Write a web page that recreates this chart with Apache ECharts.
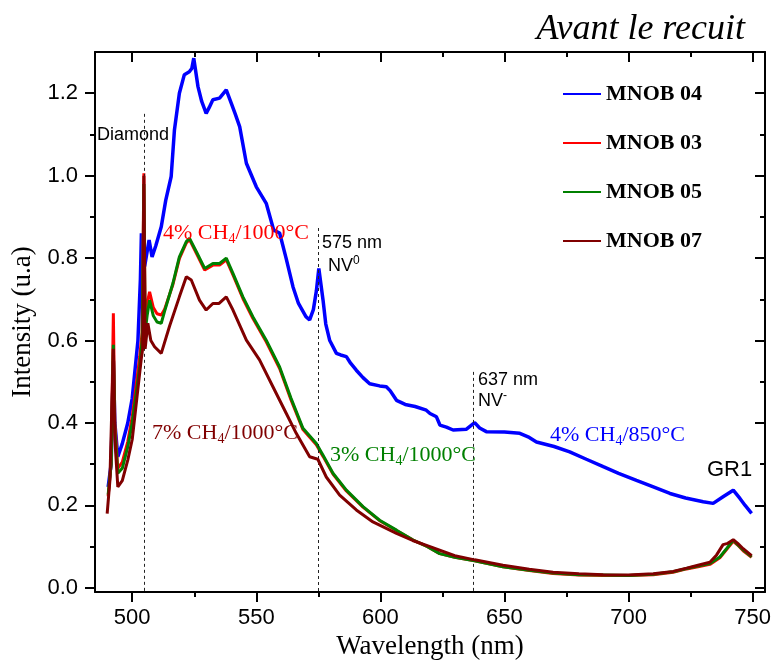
<!DOCTYPE html>
<html><head><meta charset="utf-8">
<script src="https://cdn.jsdelivr.net/npm/echarts@6/dist/echarts.min.js"></script>
<style>html,body{margin:0;padding:0;background:#fff}#c{width:774px;height:662px}</style>
</head><body><div id="c"></div>
<script>
// ---- data ----
const wl04 = [490.3,491.5,492.4,493.0,494.2,496,498.2,500,502.3,503.3,503.7,504.3,505,506.8,508,509.5,511.7,513.5,515.7,517,519,521,523,524,524.8,526.5,528,529.8,531,532.5,535.2,537.9,539.9,541.5,543.3,546,550,554,557,559.4,562,564.8,567,570,571.5,573,574.2,575.2,576.9,578,579.6,582.3,584,586.3,588,590.3,593,595.7,599.7,602.4,604,606.5,610,614,618.5,620,622.6,624,626.6,629.3,634.7,638,640,642.7,650,656.2,660,662.9,670,676.3,683,689.8,696,703.2,710,716.7,723,730.1,734.1,738.1,742.2,744.9,747,749.6];
const int04 = [0.245,0.30,0.55,0.40,0.318,0.35,0.40,0.46,0.60,0.75,0.86,0.80,0.78,0.844,0.803,0.83,0.876,0.94,0.998,1.11,1.20,1.245,1.252,1.26,1.285,1.216,1.18,1.151,1.165,1.184,1.188,1.208,1.176,1.15,1.119,1.03,0.973,0.933,0.868,0.861,0.80,0.73,0.69,0.658,0.65,0.675,0.72,0.775,0.698,0.64,0.60,0.569,0.565,0.561,0.545,0.528,0.51,0.495,0.49,0.488,0.478,0.455,0.445,0.44,0.431,0.423,0.415,0.395,0.39,0.383,0.385,0.401,0.388,0.379,0.378,0.375,0.365,0.354,0.343,0.33,0.312,0.294,0.278,0.261,0.245,0.229,0.218,0.209,0.205,0.221,0.237,0.217,0.20,0.181];

const wl03 = [490.3,491.5,492.4,493.0,494.2,496,498.2,500,503,504,504.7,505.2,506,507,508.5,510,511.7,513,516.4,519,521.8,523.1,525.8,529.2,532.5,535.2,537.9,540.6,544.6,548.6,554,559.4,564,568.8,574.2,576.9,580.9,586.3,593,599.7,606.5,613.2,619,623.9,630,638,649.4,660,669.6,680,689.8,700,710,718,723.4,728,732.8,736.8,739.5,742.2,744,746.2,749.6];
const int03 = [0.222,0.30,0.666,0.40,0.29,0.305,0.355,0.415,0.56,0.62,1.006,0.64,0.69,0.718,0.68,0.665,0.662,0.675,0.736,0.799,0.837,0.845,0.812,0.771,0.783,0.783,0.796,0.759,0.702,0.654,0.597,0.532,0.456,0.384,0.347,0.319,0.276,0.235,0.196,0.163,0.139,0.116,0.1,0.083,0.074,0.066,0.051,0.042,0.035,0.031,0.030,0.030,0.032,0.038,0.046,0.051,0.057,0.073,0.093,0.113,0.104,0.09,0.074];

const wl05 = [490.3,491.5,492.4,493.0,494.2,496,498.2,500,503,504,504.7,505.2,506,507,508.5,510,511.7,513,516.4,519,521.8,523.1,525.8,529.2,532.5,535.2,537.9,540.6,544.6,548.6,554,559.4,564,568.8,574.2,576.9,580.9,586.3,593,599.7,606.5,613.2,619,623.9,630,638,649.4,660,669.6,680,689.8,700,710,718,723.4,728,732.8,736.8,739.5,742.2,744,746.2,749.6];
const int05 = [0.226,0.30,0.59,0.38,0.278,0.29,0.342,0.40,0.536,0.60,0.98,0.62,0.66,0.698,0.66,0.645,0.642,0.67,0.739,0.803,0.84,0.848,0.816,0.775,0.787,0.787,0.80,0.763,0.706,0.658,0.601,0.536,0.46,0.387,0.35,0.322,0.278,0.237,0.197,0.164,0.14,0.116,0.10,0.083,0.074,0.066,0.051,0.043,0.036,0.032,0.031,0.030,0.033,0.039,0.047,0.053,0.059,0.075,0.095,0.116,0.105,0.092,0.075];

const wl07 = [489.9,491,492.4,493.0,494.2,496,498.2,500,503.6,504.2,504.7,505.2,506.3,507.5,509,511.7,512.3,515,519,521.8,523.8,527.1,529.8,532.5,535,537.9,540.6,546,551.3,556.7,562.1,566.1,571.5,574.8,578.2,583.6,590.3,597,606.5,613,620,630,638,649.4,660,669.6,680,689.8,700,710,718,723.4,728,732.8,735.5,738.1,740,742.2,744,746.2,749.6];
const int07 = [0.18,0.26,0.58,0.36,0.245,0.26,0.31,0.36,0.553,0.58,1.0,0.58,0.642,0.60,0.585,0.569,0.569,0.634,0.706,0.755,0.747,0.698,0.674,0.69,0.69,0.706,0.674,0.601,0.553,0.488,0.423,0.375,0.318,0.312,0.269,0.225,0.189,0.16,0.132,0.115,0.10,0.078,0.068,0.055,0.045,0.038,0.034,0.032,0.031,0.034,0.040,0.048,0.055,0.062,0.08,0.105,0.108,0.117,0.108,0.095,0.078];

const seriesNames = ['MNOB 04','MNOB 03','MNOB 05','MNOB 07'];
const xMajor = [500,550,600,650,700,750];
const xMinor = [525,575,625,675,725];
const yMajor = [0,0.2,0.4,0.6,0.8,1.0,1.2];
const yMinor = [0.1,0.3,0.5,0.7,0.9,1.1];
// reference lines: [wavelength, top intensity]
const refLines = [[505,1.15],[575,0.873],[637.5,0.524]];

// ---- chart ----
const SANS = '"Liberation Sans", Arial, sans-serif';
const SERIF = '"Liberation Serif", "Times New Roman", serif';
const zip = (a,b) => a.map((v,i)=>[v,b[i]]);
const X0 = 485, X1 = 755, Y0 = -0.01, Y1 = 1.30;
const lineBlack = {color:'#000', width:2};

function xAx(pos, vals, len, inside, main){
  return {type:'value', position:pos, min:X0, max:X1,
    axisLine:{show:main, onZero:false, lineStyle:lineBlack},
    axisTick:{show:true, customValues:vals, length:len, inside:inside, lineStyle:lineBlack},
    axisLabel:{show: main && pos==='bottom', customValues:vals, fontFamily:SANS, fontSize:22, color:'#000', margin:15},
    splitLine:{show:false}};
}
function yAx(pos, vals, len, inside, main){
  return {type:'value', position:pos, min:Y0, max:Y1,
    axisLine:{show:main, onZero:false, lineStyle:lineBlack},
    axisTick:{show:true, customValues:vals, length:len, inside:inside, lineStyle:lineBlack},
    axisLabel:{show: main && pos==='left', customValues:vals, fontFamily:SANS, fontSize:22, color:'#000', margin:17,
      formatter:v=>v.toFixed(1)},
    splitLine:{show:false}};
}
const xs = [xAx('bottom',xMajor,10,false,true), xAx('bottom',xMinor,5,false,false),
            xAx('top',xMajor,10,true,true), xAx('top',xMinor,5,true,false)];
xs[0].name = 'Wavelength (nm)'; xs[0].nameLocation='middle'; xs[0].nameGap=40;
xs[0].nameTextStyle = {fontFamily:SERIF, fontSize:27, color:'#000'};
const ys = [yAx('left',yMajor,10,false,true), yAx('left',yMinor,5,false,false),
            yAx('right',yMajor,10,true,true), yAx('right',yMinor,5,true,false)];
ys[0].name = 'Intensity (u.a)'; ys[0].nameLocation='middle'; ys[0].nameGap=55;
ys[0].nameTextStyle = {fontFamily:SERIF, fontSize:27, color:'#000'};

const colors = ['#0000ff','#ff0000','#008000','#800000'];
const widths = [3.5,3,3,3];
const dataSets = [zip(wl04,int04), zip(wl03,int03), zip(wl05,int05), zip(wl07,int07)];
const series = seriesNames.map((n,i)=>({
  name:n, type:'line', data:dataSets[i], symbol:'none', showSymbol:false,
  lineStyle:{width:widths[i], color:colors[i]}, itemStyle:{color:colors[i]}, z:2+i
}));
series.push({name:'refs', type:'line', data:[], symbol:'none',
  markLine:{silent:true, symbol:['none','none'], label:{show:false},
    lineStyle:{type:[3,3], color:'#222', width:1},
    data: refLines.map(r=>[{coord:[r[0],r[1]]},{coord:[r[0],Y0]}])}, z:10});

function txt(text,x,y,font,fill,rich){
  const s = {text:text, x:x, y:y, fill:fill, align:'left', verticalAlign:'middle',
    fontFamily:font.family, fontSize:font.size, fontStyle:font.style||'normal', fontWeight:font.weight||'normal'};
  if (rich) s.rich = rich;
  return {type:'text', style:s, z:100};
}
function chRich(color){
  return {a:{fontFamily:SERIF, fontSize:22, fill:color, lineHeight:26},
          s:{fontFamily:SERIF, fontSize:14, fill:color, lineHeight:26, verticalAlign:'bottom', padding:[10,0,0,0]}};
}
function supRich(){
  return {a:{fontFamily:SANS, fontSize:18, fill:'#000', lineHeight:22},
          p:{fontFamily:SANS, fontSize:12, fill:'#000', lineHeight:22, verticalAlign:'top', padding:[0,0,8,0]}};
}
const graphics = [
  txt('Avant le recuit',745,30,{family:SERIF,size:36,style:'italic'},'#000'),
  txt('Diamond',97,135,{family:SANS,size:18},'#000'),
  txt('575 nm',322,243,{family:SANS,size:18},'#000'),
  txt('{a|NV}{p|0}',328,266,{family:SANS,size:18},'#000',supRich()),
  txt('637 nm',478,380,{family:SANS,size:18},'#000'),
  txt('{a|NV}{p|-}',478,401,{family:SANS,size:18},'#000',supRich()),
  txt('GR1',707,470,{family:SANS,size:22},'#000'),
  txt('{a|4% CH}{s|4}{a|/1000°C}',163,233,{family:SERIF,size:22},'#ff0000',chRich('#ff0000')),
  txt('{a|7% CH}{s|4}{a|/1000°C}',152,433,{family:SERIF,size:22},'#800000',chRich('#800000')),
  txt('{a|3% CH}{s|4}{a|/1000°C}',330,455,{family:SERIF,size:22},'#008000',chRich('#008000')),
  txt('{a|4% CH}{s|4}{a|/850°C}',550,435,{family:SERIF,size:22},'#0000ff',chRich('#0000ff'))
];
graphics[0].style.align = 'right';

const chart = echarts.init(document.getElementById('c'), null, {renderer:'canvas'});
chart.setOption({
  animation:false,
  backgroundColor:'#fff',
  grid:{left:95, right:9, top:52, bottom:70, containLabel:false, outerBoundsMode:'none'},
  legend:{data:seriesNames.map(n=>({name:n, icon:'rect'})), orient:'vertical', left:563, top:83, padding:0,
    itemWidth:38, itemHeight:2, itemGap:27, selectedMode:false,
    textStyle:{fontFamily:SERIF, fontWeight:'bold', fontSize:22, color:'#000', lineHeight:22}},
  xAxis: xs, yAxis: ys,
  series: series,
  graphic: graphics
});
</script></body></html>
